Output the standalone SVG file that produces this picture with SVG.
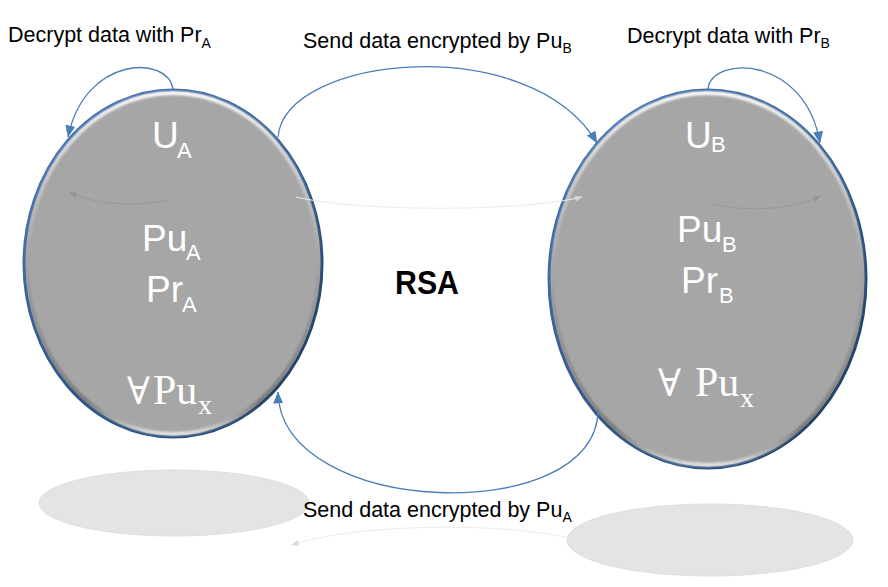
<svg xmlns="http://www.w3.org/2000/svg" width="888" height="587" viewBox="0 0 888 587">
  <style>
    .lbl { font-family: "Liberation Sans", Arial, sans-serif; font-size: 21.5px; fill: #000; }
    .sub { font-size: 14px; }
    .nt { font-family: "Liberation Sans", Arial, sans-serif; font-size: 37px; fill: #fff; }
    .ns { font-size: 22px; }
    .ser { font-family: "Liberation Serif", "DejaVu Serif", serif; font-size: 42px; fill: #fff; }
    .sers { font-size: 28px; }
    .fa { font-size: 38px; }
    .disc { fill: #a6a6a6; stroke: url(#rim); stroke-width: 3; }
    .bevel { fill: none; stroke: url(#hl); stroke-width: 4; filter: url(#soft); }
    .shadow { fill: #e4e4e4; stroke: #dedede; stroke-width: 1; }
    .conn { fill: none; stroke: #4a7ebb; stroke-width: 1.3; }
    .ghost { fill: none; stroke: #ececec; stroke-width: 1; }
    .ghostd { fill: none; stroke: #909090; stroke-width: 1; opacity: 0.6; }
    .rsa { font-family: "Liberation Sans", Arial, sans-serif; font-size: 34px; font-weight: bold; fill: #000; }
  </style>
  <defs>
    <linearGradient id="rim" x1="0" y1="0" x2="1" y2="1">
      <stop offset="0" stop-color="#4676b3"/>
      <stop offset="0.5" stop-color="#2f5b91"/>
      <stop offset="1" stop-color="#1c3a5e"/>
    </linearGradient>
    <linearGradient id="hl" x1="0" y1="0" x2="0" y2="1">
      <stop offset="0" stop-color="#ffffff" stop-opacity="0.95"/>
      <stop offset="0.3" stop-color="#ffffff" stop-opacity="0.3"/>
      <stop offset="0.6" stop-color="#666666" stop-opacity="0.25"/>
      <stop offset="0.9" stop-color="#444444" stop-opacity="0.45"/>
      <stop offset="1" stop-color="#ffffff" stop-opacity="0.7"/>
    </linearGradient>
    <filter id="soft" x="-5%" y="-5%" width="110%" height="110%">
      <feGaussianBlur stdDeviation="0.8"/>
    </filter>
    <marker id="arr" markerUnits="userSpaceOnUse" viewBox="0 0 12 10" markerWidth="12" markerHeight="10" refX="11.5" refY="5" orient="auto">
      <path d="M0,0 L12,5 L0,10 z" fill="#4a7ebb"/>
    </marker>
    <marker id="garr" markerUnits="userSpaceOnUse" viewBox="0 0 8 6" markerWidth="8" markerHeight="6" refX="7" refY="3" orient="auto">
      <path d="M0,0 L8,3 L0,6 z" fill="#8a8a8a"/>
    </marker>
    <marker id="garrl" markerUnits="userSpaceOnUse" viewBox="0 0 8 6" markerWidth="8" markerHeight="6" refX="7" refY="3" orient="auto">
      <path d="M0,0 L8,3 L0,6 z" fill="#d8d8d8"/>
    </marker>
  </defs>

  <g id="shadows">
    <ellipse class="shadow" cx="174" cy="503" rx="135" ry="33"/>
    <ellipse class="shadow" cx="710" cy="540" rx="143" ry="36"/>
  </g>

  <g id="node-a">
    <ellipse class="disc" cx="173" cy="263.5" rx="149" ry="173.5"/>
    <ellipse class="bevel" cx="173" cy="263.5" rx="146" ry="170.5"/>
    <text class="nt"><tspan x="152" y="148">U</tspan><tspan class="ns" x="177" y="158">A</tspan></text>
    <text class="nt"><tspan x="142" y="251">Pu</tspan><tspan class="ns" x="186" y="260">A</tspan></text>
    <text class="nt"><tspan x="146" y="302">Pr</tspan><tspan class="ns" x="182" y="312">A</tspan></text>
    <text class="ser"><tspan class="fa" x="127" y="404">∀</tspan><tspan x="153" y="404">Pu</tspan><tspan class="sers" x="198" y="414">x</tspan></text>
  </g>

  <g id="node-b">
    <ellipse class="disc" cx="707.5" cy="279" rx="158.5" ry="189"/>
    <ellipse class="bevel" cx="707.5" cy="279" rx="155.5" ry="186"/>
    <text class="nt"><tspan x="685" y="148">U</tspan><tspan class="ns" x="711" y="152">B</tspan></text>
    <text class="nt"><tspan x="677" y="242">Pu</tspan><tspan class="ns" x="722" y="252">B</tspan></text>
    <text class="nt"><tspan x="681" y="293">Pr</tspan><tspan class="ns" x="719" y="303">B</tspan></text>
    <text class="ser"><tspan class="fa" x="658" y="396">∀</tspan><tspan x="695" y="396">Pu</tspan><tspan class="sers" x="740" y="407">x</tspan></text>
  </g>

  <g id="rsa">
    <text class="rsa" x="395" y="294" textLength="64" lengthAdjust="spacingAndGlyphs">RSA</text>
  </g>

  <g id="reflections">
    <path class="ghost" d="M296,197 C360,212 520,212 582,197" marker-end="url(#garrl)"/>
    <path class="ghost" d="M580,541 C520,522 360,522 292,545" marker-end="url(#garrl)"/>
    <path class="ghostd" d="M170,200 C140,206 95,206 70,192" marker-end="url(#garr)"/>
    <path class="ghostd" d="M712,204 C745,212 795,210 820,196" marker-end="url(#garr)"/>
  </g>

  <g id="connectors">
    <path class="conn" d="M173,89 C168,55 85,55 68,137" marker-end="url(#arr)"/>
    <path class="conn" d="M708,89 C712,55 805,55 820,143" marker-end="url(#arr)"/>
    <path class="conn" d="M278,137 C285,55 530,30 597,143" marker-end="url(#arr)"/>
    <path class="conn" d="M598,410 C598,528 280,518 278,392" marker-end="url(#arr)"/>
  </g>

  <g id="labels">
    <text class="lbl" x="8" y="42">Decrypt data with Pr<tspan class="sub" dy="6">A</tspan></text>
    <text class="lbl" x="303" y="48">Send data encrypted by Pu<tspan class="sub" dy="5">B</tspan></text>
    <text class="lbl" x="627" y="43">Decrypt data with Pr<tspan class="sub" dy="5">B</tspan></text>
    <text class="lbl" x="303" y="517">Send data encrypted by Pu<tspan class="sub" dy="5">A</tspan></text>
  </g>
</svg>
